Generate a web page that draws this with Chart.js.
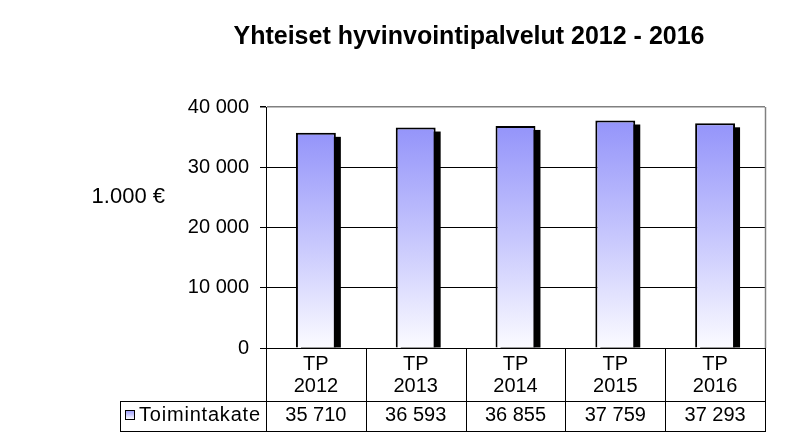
<!DOCTYPE html>
<html>
<head>
<meta charset="utf-8">
<script src="https://cdn.jsdelivr.net/npm/chart.js@4"></script>
<style>
  html, body { margin: 0; padding: 0; background: #fff; }
  #wrap { width: 787px; height: 442px; }
</style>
</head>
<body>
<div id="wrap"><canvas id="chart" width="787" height="442"></canvas></div>
<script>
// Chart data
const chartTitle = "Yhteiset hyvinvointipalvelut 2012 - 2016";
const unitLabel = "1.000 €";
const seriesName = "Toimintakate";
const categories = [["TP", "2012"], ["TP", "2013"], ["TP", "2014"], ["TP", "2015"], ["TP", "2016"]];
const values = [35710, 36593, 36855, 37759, 37293];
const yTicks = [0, 10000, 20000, 30000, 40000];

const FONT = "'Liberation Sans', Arial, sans-serif";

// "35710" -> "35 710"
function fmt(n) {
  return String(n).replace(/\B(?=(\d{3})+(?!\d))/g, " ");
}

function barGradient(ctx, top, bottom) {
  const g = ctx.createLinearGradient(0, top, 0, bottom);
  g.addColorStop(0, "#9494fa");
  g.addColorStop(0.5, "#c6c6fd");
  g.addColorStop(1, "#fbfbff");
  return g;
}

// Black drop shadow behind each bar
const barShadow = {
  id: "barShadow",
  beforeDatasetsDraw(chart) {
    const ctx = chart.ctx;
    const area = chart.chartArea;
    const meta = chart.getDatasetMeta(0);
    ctx.save();
    ctx.beginPath();
    ctx.rect(area.left, area.top, area.width, area.height);
    ctx.clip();
    ctx.fillStyle = "#000";
    meta.data.forEach((bar) => {
      const p = bar.getProps(["x", "y", "base", "width"], true);
      ctx.fillRect(p.x - p.width / 2 + 5, p.y + 4, p.width, p.base - p.y - 4);
    });
    ctx.restore();
  },
};

// Title, unit label, plot border and the data table
const decorations = {
  id: "decorations",
  afterDraw(chart) {
    const ctx = chart.ctx;
    const area = chart.chartArea;
    const n = categories.length;
    const colW = area.width / n;
    const rowTop = area.bottom;
    const rowMid = 401;
    const rowBot = 431;
    const legendLeft = 120;

    ctx.save();

    // title
    ctx.fillStyle = "#000";
    ctx.font = "bold 25px " + FONT;
    ctx.textAlign = "center";
    ctx.textBaseline = "middle";
    ctx.fillText(chartTitle, 469, 37);

    // unit label
    ctx.font = "22px " + FONT;
    ctx.textAlign = "right";
    ctx.fillText(unitLabel, 165, 197);

    // grey plot border (right side)
    ctx.strokeStyle = "#808080";
    ctx.lineWidth = 1.5;
    ctx.beginPath();
    ctx.moveTo(Math.round(area.right) + 0.5, area.top);
    ctx.lineTo(Math.round(area.right) + 0.5, area.bottom);
    ctx.stroke();

    // table grid
    ctx.strokeStyle = "#000";
    ctx.lineWidth = 1;
    ctx.beginPath();
    for (let i = 0; i <= n; i++) {
      const x = Math.round(area.left + i * colW) + 0.5;
      ctx.moveTo(x, rowTop);
      ctx.lineTo(x, rowBot);
    }
    ctx.moveTo(legendLeft, rowMid + 0.5);
    ctx.lineTo(area.right + 1, rowMid + 0.5);
    ctx.moveTo(legendLeft, rowBot + 0.5);
    ctx.lineTo(area.right + 1, rowBot + 0.5);
    ctx.moveTo(legendLeft + 0.5, rowMid);
    ctx.lineTo(legendLeft + 0.5, rowBot + 1);
    ctx.stroke();

    // category labels and values
    const xScale = chart.scales.x;
    ctx.font = "20px " + FONT;
    ctx.textAlign = "center";
    categories.forEach((cat, i) => {
      const cx = xScale.getPixelForValue(i);
      ctx.fillText(cat[0], cx, 364);
      ctx.fillText(cat[1], cx, 386);
      ctx.fillText(fmt(values[i]), cx, 415);
    });

    // legend key
    ctx.fillStyle = barGradient(ctx, 410, 419);
    ctx.fillRect(125, 410, 9, 9);
    ctx.strokeRect(125.5, 410.5, 9, 9);
    ctx.fillStyle = "#000";
    ctx.textAlign = "left";
    ctx.letterSpacing = "0.8px";
    ctx.fillText(seriesName, 139, 415);

    ctx.restore();
  },
};

const chart = new Chart(document.getElementById("chart"), {
  type: "bar",
  data: {
    labels: categories.map((c) => c.join(" ")),
    datasets: [
      {
        label: seriesName,
        data: values,
        backgroundColor: (c) => {
          const ch = c.chart;
          if (!ch.chartArea || c.raw === undefined) return "#9999ff";
          const top = ch.scales.y.getPixelForValue(c.raw);
          return barGradient(ch.ctx, top, ch.chartArea.bottom);
        },
        borderColor: "#000",
        borderWidth: 2,
        borderSkipped: "start",
        barPercentage: 0.4,
        categoryPercentage: 1,
      },
    ],
  },
  options: {
    responsive: false,
    animation: false,
    devicePixelRatio: 1,
    layout: {
      padding: { left: 0, top: 107, right: 22, bottom: 94 },
    },
    scales: {
      x: {
        display: false,
      },
      y: {
        min: 0,
        max: 40000,
        afterBuildTicks: (scale) => {
          scale.ticks = yTicks.map((v) => ({ value: v }));
        },
        afterFit: (scale) => {
          scale.width = 266;
        },
        border: { color: "#000", width: 1 },
        grid: {
          color: (c) => (c.tick && c.tick.value === 40000 ? "#808080" : "#000"),
          lineWidth: (c) => (c.tick && c.tick.value === 40000 ? 1.5 : 1),
          tickColor: "#000",
          tickLength: 6,
        },
        ticks: {
          padding: 11,
          color: "#000",
          font: { family: FONT, size: 20 },
          callback: (v) => fmt(v),
        },
      },
    },
    plugins: {
      legend: { display: false },
      title: { display: false },
      tooltip: { enabled: false },
    },
  },
  plugins: [barShadow, decorations],
});
</script>
</body>
</html>
